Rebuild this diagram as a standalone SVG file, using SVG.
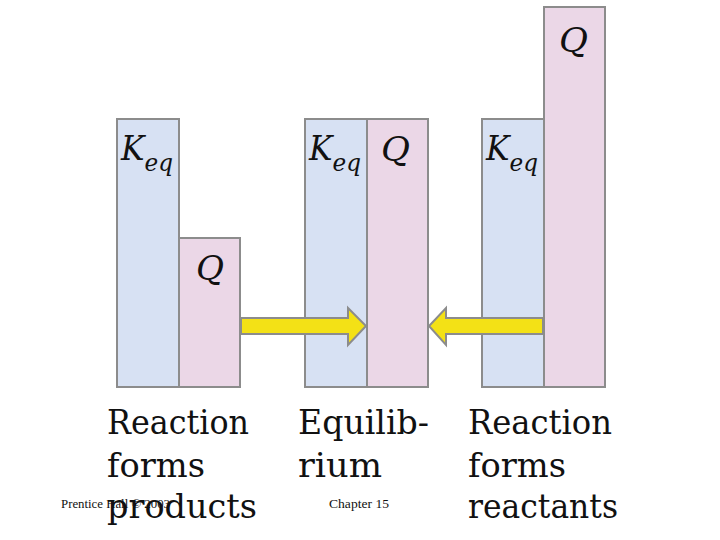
<svg xmlns="http://www.w3.org/2000/svg" width="720" height="540" viewBox="0 0 720 540">
<style>
.k{fill:#d7e1f3;stroke:#8c8c8c;stroke-width:2}
.q{fill:#ebd7e7;stroke:#8c8c8c;stroke-width:2}
.arr{fill:#f3e116;stroke:#8c8c8c;stroke-width:2;stroke-linejoin:miter}
.sym{font-family:"DejaVu Serif","Liberation Serif",serif;font-style:italic;font-size:34px;fill:#111}
.sub{font-size:25px}
.lab{font-family:"DejaVu Serif","Liberation Serif",serif;font-size:33px;fill:#111}
.foot{font-family:"Liberation Serif","Times New Roman",serif;font-size:13.5px;fill:#111}
</style>
<rect width="720" height="540" fill="#fff"/>
<g id="bars-products">
<rect class="k" x="117" y="119" width="62" height="268"/>
<rect class="q" x="179" y="238" width="61" height="149"/>
<text class="sym" x="121" y="160" textLength="52" lengthAdjust="spacingAndGlyphs">K<tspan class="sub" dy="11">eq</tspan></text>
<text class="sym" x="196" y="280" textLength="28" lengthAdjust="spacingAndGlyphs">Q</text>
</g>
<g id="bars-equilibrium">
<rect class="k" x="305" y="119" width="62" height="268"/>
<rect class="q" x="367" y="119" width="61" height="268"/>
<text class="sym" x="309" y="160" textLength="52" lengthAdjust="spacingAndGlyphs">K<tspan class="sub" dy="11">eq</tspan></text>
<text class="sym" x="381" y="161" textLength="29" lengthAdjust="spacingAndGlyphs">Q</text>
</g>
<g id="bars-reactants">
<rect class="k" x="482" y="119" width="62" height="268"/>
<rect class="q" x="544" y="7" width="61" height="380"/>
<text class="sym" x="486" y="160" textLength="52" lengthAdjust="spacingAndGlyphs">K<tspan class="sub" dy="11">eq</tspan></text>
<text class="sym" x="559" y="52" textLength="29" lengthAdjust="spacingAndGlyphs">Q</text>
</g>
<g id="connectors">
<path class="arr" d="M241,318 H348 V308 L366,326 L348,345 V334 H241 Z"/>
<path class="arr" d="M543,318 H446 V308 L429,326 L446,345 V334 H543 Z"/>
</g>
<g id="labels">
<text class="lab" x="107" y="434" textLength="142" lengthAdjust="spacingAndGlyphs">Reaction</text>
<text class="lab" x="107" y="477" textLength="98" lengthAdjust="spacingAndGlyphs">forms</text>
<text class="lab" x="298" y="434" textLength="131" lengthAdjust="spacingAndGlyphs">Equilib-</text>
<text class="lab" x="298" y="477" textLength="84" lengthAdjust="spacingAndGlyphs">rium</text>
<text class="lab" x="468" y="434" textLength="144" lengthAdjust="spacingAndGlyphs">Reaction</text>
<text class="lab" x="468" y="477" textLength="98" lengthAdjust="spacingAndGlyphs">forms</text>
<text class="lab" x="468" y="518" textLength="150" lengthAdjust="spacingAndGlyphs">reactants</text>
</g>
<g id="footer">
<text class="foot" x="61" y="508" textLength="109" lengthAdjust="spacingAndGlyphs">Prentice Hall © 2003</text>
<text class="foot" x="329" y="508" textLength="60" lengthAdjust="spacingAndGlyphs">Chapter 15</text>
</g>
<text class="lab" x="107" y="518" textLength="150" lengthAdjust="spacingAndGlyphs">products</text>
</svg>
